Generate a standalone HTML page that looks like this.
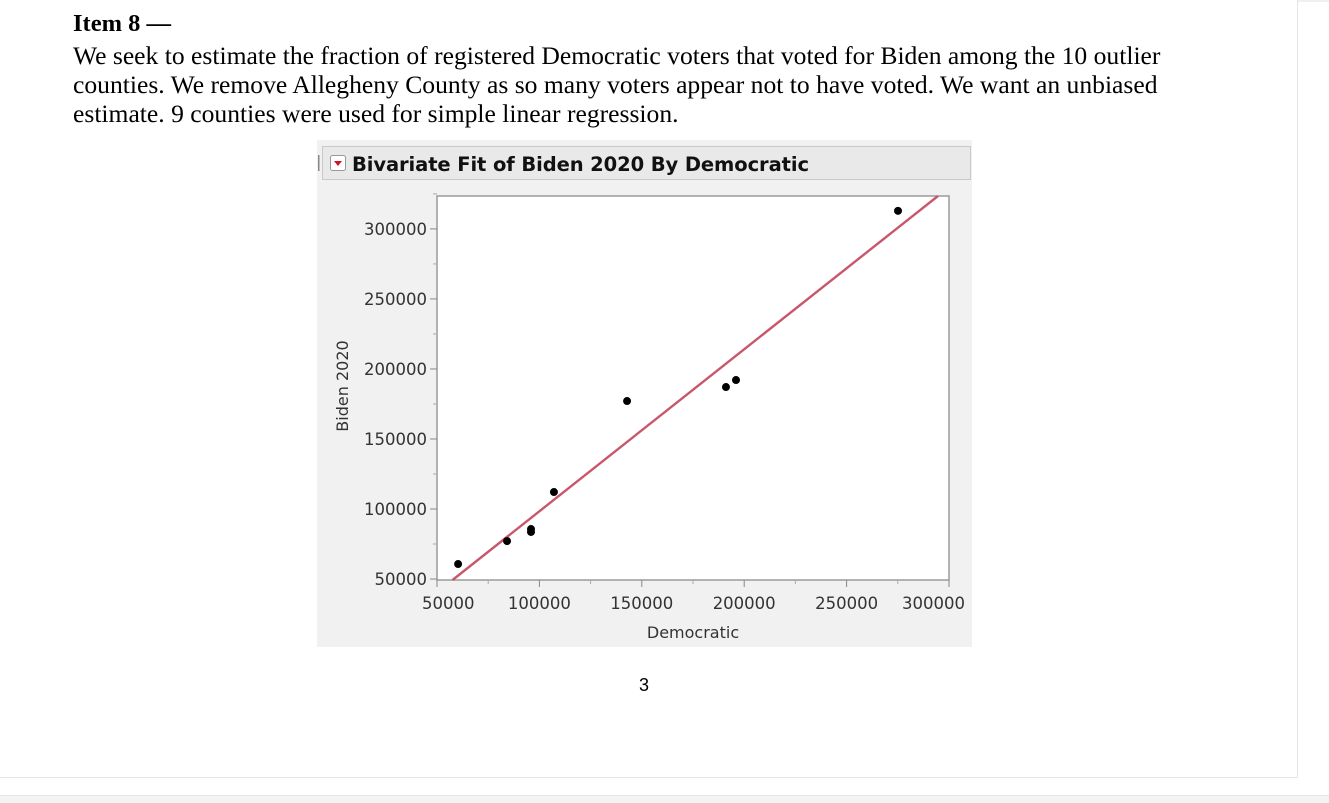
<!DOCTYPE html>
<html><head><meta charset="utf-8">
<style>
html,body{margin:0;padding:0;background:#fff;width:1329px;height:803px;overflow:hidden;position:relative}
.page{position:absolute;left:0;top:0;width:1297px;height:777px;border-right:1px solid #e6e6e6;border-bottom:1px solid #e6e6e6;background:#fff}
.topline{position:absolute;left:0;top:0;width:1329px;height:2px;background:#eef0f4}
.txt{position:absolute;left:73px;font-family:"Liberation Serif",serif;font-size:25.6px;color:#000;white-space:nowrap;line-height:29px}
.bot{position:absolute;left:0;top:795px;width:1329px;height:8px;background:#f4f4f4;border-top:1px solid #e6e6e6}
</style></head><body>
<div class="topline"></div>
<div class="page">
<div class="txt" style="top:9px;font-weight:bold;font-size:24.5px">Item 8 —</div>
<div class="txt" style="top:41px">We seek to estimate the fraction of registered Democratic voters that voted for Biden among the 10 outlier</div>
<div class="txt" style="top:70px">counties. We remove Allegheny County as so many voters appear not to have voted. We want an unbiased</div>
<div class="txt" style="top:99px">estimate. 9 counties were used for simple linear regression.</div>
<svg id="chart" style="position:absolute;left:0;top:0" width="1329" height="803">
<rect x="317" y="140" width="655" height="507" fill="#f1f1f1"/>
<rect x="322.5" y="146.5" width="648" height="33" fill="#e9e9e9" stroke="#c9c9c9"/>
<rect x="318" y="155" width="1.5" height="16" fill="#888"/>
<rect x="330.5" y="155.5" width="15" height="15" rx="2" fill="#fff" stroke="#999"/>
<polygon points="334,161 342,161 338,166" fill="#d0142a"/>
<text x="352" y="171" font-family="'DejaVu Sans',sans-serif" font-weight="bold" font-size="19.5" fill="#111" textLength="457">Bivariate Fit of Biden 2020 By Democratic</text>
<rect x="437" y="196" width="512" height="384" fill="#fff" stroke="#9a9a9a" stroke-width="1.5"/>
<g id="axes"></g>
<g id="marks"></g>
<text x="693" y="638" text-anchor="middle" font-family="'DejaVu Sans',sans-serif" font-size="16" fill="#333">Democratic</text>
<text transform="translate(348,386) rotate(-90)" text-anchor="middle" font-family="'DejaVu Sans',sans-serif" font-size="16" fill="#333">Biden 2020</text>
</svg>
<div style="position:absolute;left:639px;top:675px;font-family:'Liberation Sans',sans-serif;font-size:18px">3</div>
</div>
<div class="bot"></div>
<script>
const xTicks=[50000,100000,150000,200000,250000,300000];
const yTicks=[50000,100000,150000,200000,250000,300000];
const xTickLabels=["50000","100000","150000","200000","250000","300000"];
const yTickLabels=["50000","100000","150000","200000","250000","300000"];
const democratic=[60300,84200,95900,95900,107100,142800,191100,196000,275100];
const biden2020=[60700,77100,85700,83600,112100,177100,187100,192100,312900];
const NS="http://www.w3.org/2000/svg";
const L=437,R=949,T=196,B=580;
const xMin=50000,xMax=300000,yMin=49300,yMax=323500;
function sx(v){return L+(v-xMin)/(xMax-xMin)*(R-L);}
function sy(v){return B-(v-yMin)/(yMax-yMin)*(B-T);}
function mk(t,a){const e=document.createElementNS(NS,t);for(const k in a)e.setAttribute(k,a[k]);return e;}
const ax=document.getElementById('axes'),mg=document.getElementById('marks');
xTicks.forEach((v,i)=>{
  const x=sx(v);
  const t=mk('line',{x1:x,x2:x,y1:B,y2:B+7,stroke:'#888'});
  
  
  ax.appendChild(t);
  if(i<xTicks.length-1){const m=mk('line',{x1:sx(v+25000),x2:sx(v+25000),y1:B,y2:B+4,stroke:'#aaa'});
  
  
  ax.appendChild(m);}
  let anchor='middle',lx=x;
  if(i===0){anchor='start';lx=x-15;}
  if(i===xTicks.length-1){anchor='end';lx=x+16;}
  const l=mk('text',{x:lx,y:B+29,'text-anchor':anchor,'font-family':"'DejaVu Sans',sans-serif",'font-size':16.5,fill:'#333'});
  l.textContent=xTickLabels[i];
  
  
  ax.appendChild(l);
});
yTicks.forEach((v,i)=>{
  const y=sy(v);
  const t=mk('line',{x1:L-7,x2:L,y1:y,y2:y,stroke:'#888'});
  
  
  ax.appendChild(t);
  const m=mk('line',{x1:L-4,x2:L,y1:sy(v+25000),y2:sy(v+25000),stroke:'#aaa'});
  
  
  ax.appendChild(m);
  const l=mk('text',{x:L-10,y:y+6,'text-anchor':'end','font-family':"'DejaVu Sans',sans-serif",'font-size':16.5,fill:'#333'});
  l.textContent=yTickLabels[i];
  
  
  ax.appendChild(l);
});
const n=democratic.length;
let mx=0,my=0;for(let i=0;i<n;i++){mx+=democratic[i];my+=biden2020[i];}mx/=n;my/=n;
let sxy=0,sxx=0;for(let i=0;i<n;i++){sxy+=(democratic[i]-mx)*(biden2020[i]-my);sxx+=(democratic[i]-mx)**2;}
const slope=sxy/sxx,icpt=my-slope*mx;
let x0=Math.max(xMin,(yMin-icpt)/slope),x1=Math.min(xMax,(yMax-icpt)/slope);
const fit=mk('line',{x1:sx(x0),y1:sy(slope*x0+icpt),x2:sx(x1),y2:sy(slope*x1+icpt),stroke:'#c9576b','stroke-width':2.4});


mg.appendChild(fit);
for(let i=0;i<n;i++){
  const c=mk('circle',{cx:sx(democratic[i]),cy:sy(biden2020[i]),r:4,fill:'#000'});
  
  
  mg.appendChild(c);
}
</script>
</body></html>
